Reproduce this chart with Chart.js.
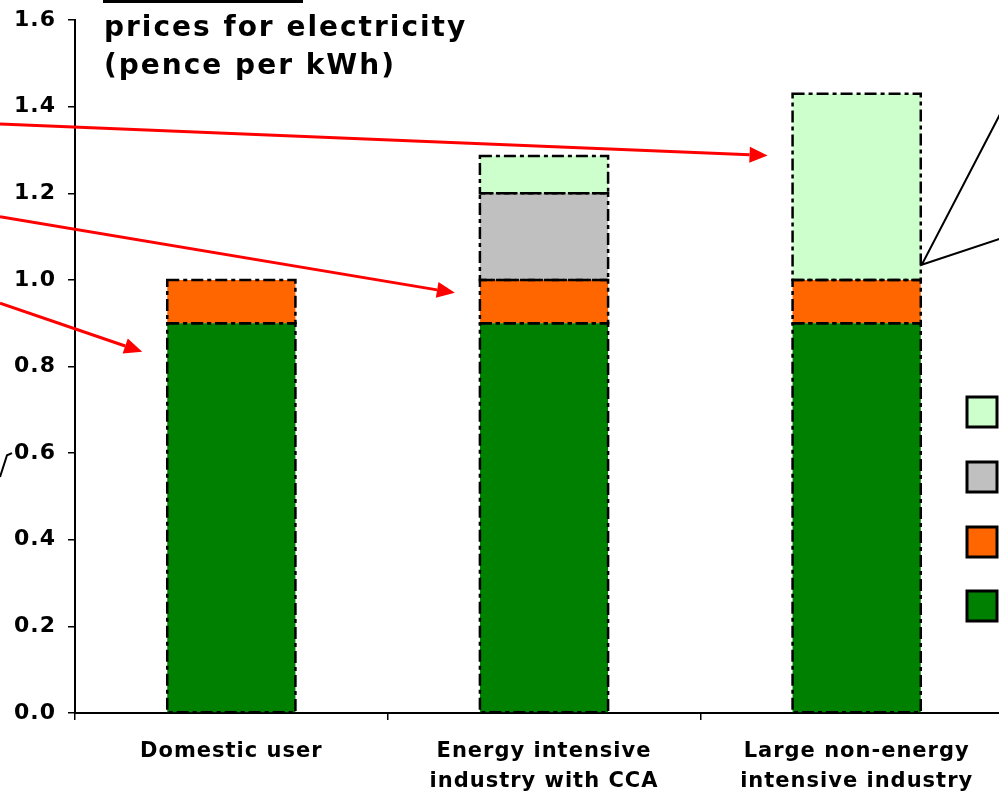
<!DOCTYPE html>
<html lang="en">
<head>
<meta charset="UTF-8">
<title>Prices for electricity</title>
<script src="https://cdn.jsdelivr.net/npm/chart.js"></script>
<style>
  html, body { margin: 0; padding: 0; background: #fff; overflow: hidden; }
  .wrap { position: relative; width: 1013px; height: 797px; }
  .title { position: absolute; left: 104px; top: 8px; font: bold 28px 'DejaVu Sans', sans-serif; letter-spacing: 2px; line-height: 38px; color: #000; }
  .topline { position: absolute; left: 103px; top: 0; width: 200px; height: 3px; background: #000; }
</style>
</head>
<body>
<div class="wrap">
  <canvas id="chart"></canvas>
  <div class="topline"></div>
  <div class="title">prices for electricity<br>(pence per kWh)</div>
</div>
<script>
// data
const categories = [["Domestic user"], ["Energy intensive", "industry with CCA"], ["Large non-energy", "intensive industry"]];
const seriesNames = ["Wholesale price", "Renewables Obligation", "CCA target cost", "Climate Change Levy"];
const wholesale = [0.9, 0.9, 0.9];
const renewables = [0.1, 0.1, 0.1];
const ccaCost = [0, 0.2, 0];
const levy = [0, 0.086, 0.43];
const yTicks = [0, 0.2, 0.4, 0.6, 0.8, 1.0, 1.2, 1.4, 1.6];
const colors = ['#008000', '#FF6600', '#C0C0C0', '#CCFFCC'];

// annotation arrows: [start value at left edge, target category, value at tip]
const arrows = [[1.36, 2, 1.287], [1.146, 1, 0.97], [0.946, 0, 0.834]];

const textSpacing = {
  id: 'textSpacing',
  beforeLayout(chart) { chart.ctx.letterSpacing = '1px'; },
  beforeDraw(chart) { chart.ctx.letterSpacing = '1px'; }
};

const dashedBorders = {
  id: 'dashedBorders',
  afterDatasetsDraw(chart) {
    const ctx = chart.ctx;
    ctx.save();
    ctx.strokeStyle = '#000';
    ctx.lineWidth = 2.5;
    ctx.setLineDash([12, 4, 4, 4]);
    chart.data.datasets.forEach((ds, i) => {
      chart.getDatasetMeta(i).data.forEach((bar, j) => {
        if (!ds.data[j]) return;
        const p = bar.getProps(['x', 'y', 'base', 'width'], true);
        ctx.strokeRect(p.x - p.width / 2, p.y, p.width, p.base - p.y);
      });
    });
    ctx.restore();
  }
};

const annotations = {
  id: 'annotations',
  afterDraw(chart) {
    const ctx = chart.ctx;
    const y = chart.scales.y;
    const bars = chart.getDatasetMeta(0).data;
    ctx.save();
    ctx.letterSpacing = '0px';
    // red arrows
    ctx.strokeStyle = '#FF0000';
    ctx.fillStyle = '#FF0000';
    ctx.lineWidth = 3;
    arrows.forEach(a => {
      const x0 = 0, y0 = y.getPixelForValue(a[0]);
      const b = bars[a[1]];
      const x1 = b.x - b.width / 2 - 25, y1 = y.getPixelForValue(a[2]);
      const ang = Math.atan2(y1 - y0, x1 - x0);
      const hl = 18, hw = 8;
      const bx = x1 - hl * Math.cos(ang), by = y1 - hl * Math.sin(ang);
      ctx.beginPath();
      ctx.moveTo(x0, y0);
      ctx.lineTo(bx, by);
      ctx.stroke();
      ctx.beginPath();
      ctx.moveTo(x1, y1);
      ctx.lineTo(bx + hw * Math.sin(ang), by - hw * Math.cos(ang));
      ctx.lineTo(bx - hw * Math.sin(ang), by + hw * Math.cos(ang));
      ctx.closePath();
      ctx.fill();
    });
    // black callout lines
    ctx.strokeStyle = '#000';
    ctx.lineWidth = 2;
    const lb = bars[2];
    const cx = lb.x + lb.width / 2 + 1, cy = y.getPixelForValue(1.035);
    ctx.beginPath();
    ctx.moveTo(1013, y.getPixelForValue(1.44));
    ctx.lineTo(cx, cy);
    ctx.lineTo(1013, y.getPixelForValue(1.105));
    ctx.stroke();
    ctx.beginPath();
    ctx.moveTo(0, y.getPixelForValue(0.545));
    ctx.lineTo(7, y.getPixelForValue(0.595));
    ctx.lineTo(12, y.getPixelForValue(0.6));
    ctx.stroke();
    // legend swatches (labels fall outside the window)
    const tops = [397, 462, 527, 591];
    ctx.lineWidth = 3;
    for (let k = 0; k < 4; k++) {
      const idx = 3 - k;
      ctx.fillStyle = colors[idx];
      ctx.fillRect(967, tops[k], 30, 30);
      ctx.strokeRect(967, tops[k], 30, 30);
      ctx.fillStyle = '#000';
      ctx.font = 'bold 20px "DejaVu Sans"';
      ctx.textBaseline = 'middle';
      ctx.fillText(seriesNames[idx], 1008, tops[k] + 15);
    }
    ctx.restore();
  }
};

new Chart(document.getElementById('chart'), {
  type: 'bar',
  data: {
    labels: categories,
    datasets: [wholesale, renewables, ccaCost, levy].map((d, i) => ({
      label: seriesNames[i],
      data: d,
      backgroundColor: colors[i],
      borderWidth: 0,
      barPercentage: 0.41,
      categoryPercentage: 1
    }))
  },
  options: {
    responsive: true,
    maintainAspectRatio: false,
    animation: false,
    layout: { padding: { top: 20, left: 0, right: 0, bottom: 0 } },
    plugins: { legend: { display: false }, tooltip: { enabled: false } },
    scales: {
      x: {
        stacked: true,
        afterFit(s) { s.height = 84; },
        border: { color: '#000', width: 2 },
        grid: { display: true, drawOnChartArea: false, tickLength: 7, color: '#000', lineWidth: 1.5, offset: true },
        ticks: { color: '#000', font: { family: 'DejaVu Sans', size: 21, weight: 'bold', lineHeight: 1.45 }, padding: 16, maxRotation: 0 }
      },
      y: {
        stacked: true,
        min: 0,
        max: 1.6,
        afterFit(s) { s.width = 75; s.paddingTop = 0; s.paddingBottom = 0; },
        afterBuildTicks(s) { s.ticks = yTicks.map(v => ({ value: v })); },
        border: { color: '#000', width: 2 },
        grid: { display: true, drawOnChartArea: false, tickLength: 7, color: '#000', lineWidth: 1.5 },
        ticks: { color: '#000', font: { family: 'DejaVu Sans', size: 22, weight: 'bold' }, padding: 12, callback: v => v.toFixed(1) }
      }
    }
  },
  plugins: [textSpacing, dashedBorders, annotations]
});
</script>
</body>
</html>
